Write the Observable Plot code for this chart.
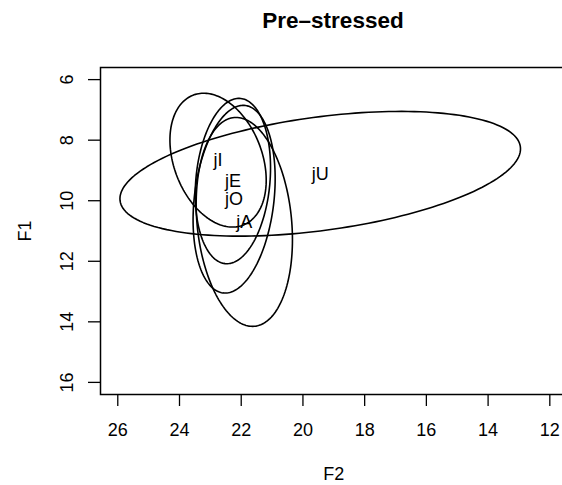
<!DOCTYPE html>
<html>
<head>
<meta charset="utf-8">
<script src="https://cdn.jsdelivr.net/npm/d3@7"></script>
<script src="https://cdn.jsdelivr.net/npm/@observablehq/plot@0.6"></script>
<style>
  html, body { margin: 0; padding: 0; background: #fff; }
  #wrap { position: relative; width: 562px; height: 485px; overflow: hidden; font-family: "Liberation Sans", Arial, Helvetica, sans-serif; }
  #title { position: relative; height: 40px; }
  #title span { position: absolute; left: 333px; top: 9.5px; transform: translateX(-50%); font-size: 22.5px; line-height: 1; font-weight: bold; color: #000; white-space: nowrap; }
</style>
</head>
<body>
<div id="wrap">
  <div id="title"><span>Pre–stressed</span></div>
  <div id="chart"></div>
</div>
<script>
// Vowel categories and ellipse parameters
const vowels   = ["jI", "jE", "jO", "jA", "jU"];
const f2Mean   = [22.75, 22.27, 22.23, 21.90, 19.44];
const f1Mean   = [8.66, 9.35, 9.95, 10.70, 9.11];
const f2Radius = [1.56, 1.22, 1.33, 1.56, 6.49];
const f1Radius = [2.21, 2.73, 3.10, 3.45, 2.06];
const corr     = [-0.30, 0.16, 0.22, -0.17, 0.40];

// Axis tick values
const xTicks = [26, 24, 22, 20, 18, 16, 14, 12];
const yTicks = [6, 8, 10, 12, 14, 16];

// Ellipse outlines (geometry from centre, radii and correlation)
const N = 180;
const outline = [];
vowels.forEach((v, i) => {
  const phi = Math.acos(corr[i]);
  for (let k = 0; k <= N; k++) {
    const t = 2 * Math.PI * k / N;
    outline.push({
      vowel: v,
      f2: f2Mean[i] + f2Radius[i] * Math.cos(t),
      f1: f1Mean[i] + f1Radius[i] * Math.cos(t + phi)
    });
  }
});
const centres = vowels.map((v, i) => ({vowel: v, f2: f2Mean[i], f1: f1Mean[i]}));

const font = '"Liberation Sans", Arial, Helvetica, sans-serif';

const chart = Plot.plot({
  width: 562,
  height: 445,
  marginLeft: 100,
  marginRight: -4.6,
  marginTop: 27,
  marginBottom: 91,
  x: {domain: [26.56, 11.44]},
  y: {domain: [5.6, 16.4], reverse: true},
  style: {fontFamily: font, fontSize: "18px", background: "white", color: "black"},
  marks: [
    Plot.frame({stroke: "black", strokeWidth: 1.5}),
    Plot.axisX(xTicks, {tickSize: 12, tickPadding: 17, fontSize: 18, strokeWidth: 1.3, label: null}),
    Plot.axisY(yTicks, {tickSize: 12, tickFormat: () => "", strokeWidth: 1.3, label: null}),
    Plot.text(yTicks, {y: d => d, text: d => String(d), frameAnchor: "left", dx: -33.3, rotate: -90,
      textAnchor: "middle", lineAnchor: "middle", fontSize: 18, fill: "black"}),
    Plot.text(["F2"], {text: d => d, frameAnchor: "bottom", dy: 79.3, textAnchor: "middle",
      lineAnchor: "middle", fontSize: 18, fill: "black"}),
    Plot.text(["F1"], {text: d => d, frameAnchor: "left", dx: -75, rotate: -90, textAnchor: "middle",
      lineAnchor: "middle", fontSize: 18, fill: "black"}),
    Plot.line(outline, {x: "f2", y: "f1", z: "vowel", stroke: "black", strokeWidth: 1.6}),
    Plot.text(centres, {x: "f2", y: "f1", text: "vowel", textAnchor: "middle", lineAnchor: "middle",
      fontSize: 18, fill: "black"})
  ]
});
document.getElementById("chart").appendChild(chart);
</script>
</body>
</html>
